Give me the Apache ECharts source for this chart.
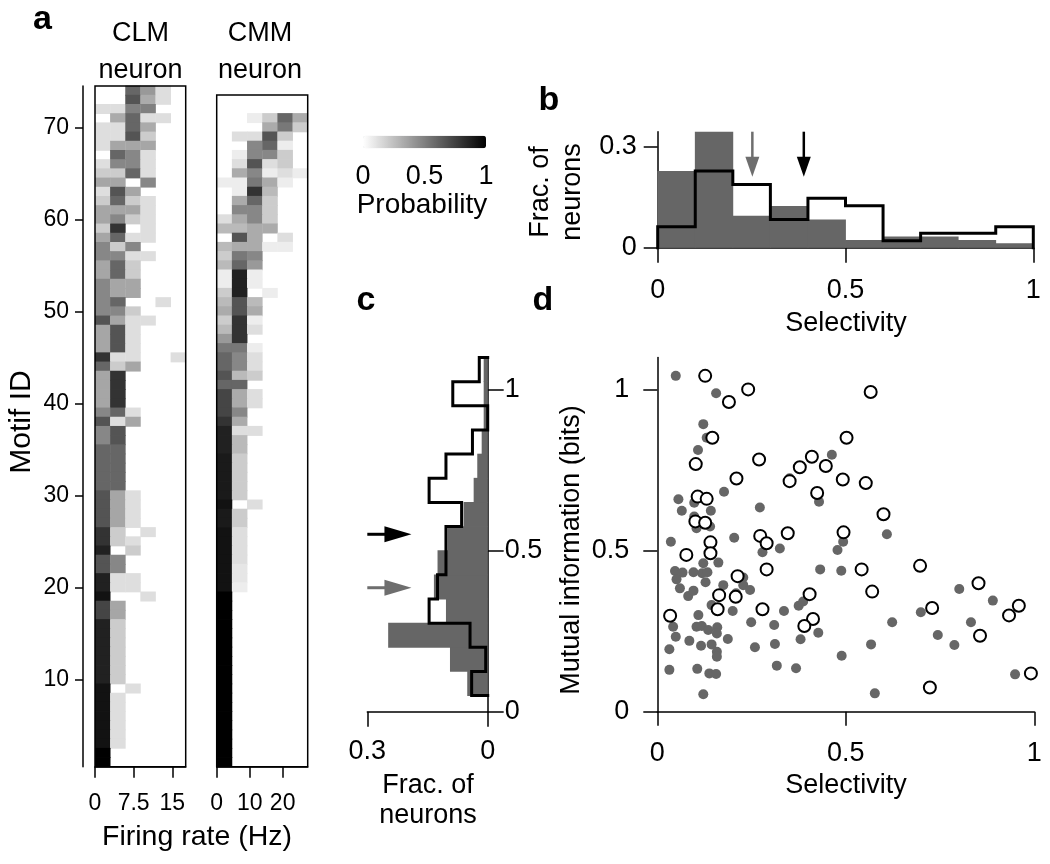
<!DOCTYPE html>
<html><head><meta charset="utf-8">
<script src="https://cdn.jsdelivr.net/npm/echarts@6/dist/echarts.min.js"></script>
<style>html,body{margin:0;padding:0;background:#fff}#c{width:1050px;height:864px}</style>
</head><body><div id="c"></div>
<script>
// ---------------- DATA ----------------
// Panel a: firing-rate bin edges (Hz)
const clmBinEdges = [0, 2.93, 5.87, 8.8, 11.73, 14.67, 17.6];
const cmmBinEdges = [0, 4.6, 9.2, 13.8, 18.4, 23, 27.6];
const clmTicks = [0, 7.5, 15];
const cmmTicks = [0, 10, 20];
const motifTicks = [10, 20, 30, 40, 50, 60, 70];
// CLM neuron: probability per firing-rate bin, rows listed from motif 74 (top) down to motif 1
const clmRows = [
 [0,0,0.6,0.4,0.13,0],[0,0,0.67,0.33,0.13,0],[0.13,0.13,0.5,0.5,0,0],[0,0.33,0.6,0.13,0.13,0],
 [0.13,0.13,0.6,0.33,0,0],[0.13,0.13,0.67,0.2,0,0],[0.13,0.35,0.35,0.35,0,0],[0,0.6,0.47,0.13,0,0],
 [0.13,0.47,0.47,0.13,0,0],[0.2,0.2,0.6,0.13,0,0],[0.35,0.35,0,0.47,0,0],[0.13,0.67,0.35,0,0,0],
 [0.2,0.6,0.2,0.13,0,0],[0.35,0.35,0.35,0.13,0,0],[0.35,0.47,0.2,0.13,0,0],[0.2,0.8,0,0.13,0,0],
 [0.35,0.6,0.13,0.13,0,0],[0.47,0.2,0.47,0,0,0],[0.47,0.47,0.13,0.13,0,0],[0.35,0.6,0.2,0,0,0],
 [0.35,0.6,0.2,0,0,0],[0.47,0.35,0.35,0,0,0],[0.47,0.35,0.35,0,0,0],[0.47,0.6,0,0,0.13,0],
 [0.47,0.47,0.2,0,0,0],[0.67,0.35,0.13,0.13,0,0],[0.35,0.67,0.13,0,0,0],[0.35,0.67,0.13,0,0,0],
 [0.35,0.67,0.13,0,0,0],[0.8,0.13,0.13,0,0,0.13],[0.6,0.2,0.35,0,0,0],[0.35,0.8,0,0,0,0],
 [0.35,0.8,0,0,0,0],[0.35,0.8,0,0,0,0],[0.35,0.8,0,0,0,0],[0.47,0.6,0.13,0,0,0],
 [0.67,0.13,0.35,0,0,0],[0.47,0.67,0,0,0,0],[0.47,0.67,0,0,0,0],[0.6,0.6,0,0,0,0],
 [0.6,0.6,0,0,0,0],[0.6,0.6,0,0,0,0],[0.6,0.6,0,0,0,0],[0.6,0.6,0,0,0,0],
 [0.67,0.35,0.13,0,0,0],[0.67,0.35,0.13,0,0,0],[0.67,0.35,0.13,0,0,0],[0.67,0.35,0.13,0,0,0],
 [0.8,0.2,0,0.13,0,0],[0.8,0.2,0.13,0,0,0],[0.87,0,0.2,0,0,0],[0.67,0.47,0,0,0,0],
 [0.67,0.47,0,0,0,0],[0.87,0.13,0.13,0,0,0],[0.87,0.13,0.13,0,0,0],[0.93,0,0,0.13,0,0],
 [0.73,0.35,0,0,0,0],[0.73,0.35,0,0,0,0],[0.87,0.2,0,0,0,0],[0.87,0.2,0,0,0,0],
 [0.87,0.2,0,0,0,0],[0.87,0.2,0,0,0,0],[0.87,0.2,0,0,0,0],[0.87,0.2,0,0,0,0],
 [0.87,0.2,0,0,0,0],[0.93,0,0.13,0,0,0],[0.93,0.13,0,0,0,0],[0.93,0.13,0,0,0,0],
 [0.93,0.13,0,0,0,0],[0.93,0.13,0,0,0,0],[0.93,0.13,0,0,0,0],[0.93,0.13,0,0,0,0],
 [1,0,0,0,0,0],[1,0,0,0,0,0]
];
// CMM neuron: rows from motif 73 (top) down to motif 1
const cmmRows = [
 [0,0,0.07,0.2,0.6,0.33],[0,0,0,0.33,0.53,0.2],[0,0.13,0.13,0.67,0.2,0],[0,0,0.47,0.6,0.07,0],
 [0,0.07,0.47,0.47,0.2,0],[0,0.13,0.67,0.13,0.2,0],[0,0.33,0.47,0.07,0.13,0.07],[0.07,0.07,0.53,0.33,0.07,0],
 [0,0.07,0.8,0.27,0,0],[0,0.33,0.6,0.2,0,0],[0,0.47,0.47,0.2,0,0],[0.13,0.33,0.47,0.2,0,0],
 [0.27,0.27,0.33,0.33,0,0],[0,0.67,0.33,0,0.13,0],[0.27,0.33,0.33,0.07,0.07,0],[0.2,0.53,0.47,0,0,0],
 [0.27,0.6,0.4,0,0,0],[0.07,0.87,0.07,0,0,0],[0.07,0.87,0.07,0,0,0],[0.2,0.87,0,0.07,0,0],
 [0.27,0.67,0.27,0,0,0],[0.33,0.67,0.33,0,0,0],[0.2,0.8,0.07,0,0,0],[0.27,0.8,0.13,0,0,0],
 [0.4,0.8,0,0,0,0],[0.53,0.53,0.07,0,0,0],[0.6,0.47,0.13,0,0,0],[0.6,0.47,0.13,0,0,0],
 [0.67,0.27,0.2,0,0,0],[0.6,0.6,0,0,0,0],[0.73,0.33,0.13,0,0,0],[0.73,0.33,0.13,0,0,0],
 [0.73,0.47,0,0,0,0],[0.8,0.33,0,0,0,0],[0.87,0.13,0.13,0,0,0],[0.87,0.27,0,0,0,0],
 [0.87,0.27,0,0,0,0],[0.9,0.2,0,0,0,0],[0.9,0.2,0,0,0,0],[0.9,0.2,0,0,0,0],
 [0.9,0.2,0,0,0,0],[0.9,0.2,0,0,0,0],[0.93,0,0.13,0,0,0],[0.9,0.2,0,0,0,0],
 [0.9,0.2,0,0,0,0],[0.93,0.13,0,0,0,0],[0.93,0.13,0,0,0,0],[0.93,0.13,0,0,0,0],
 [0.93,0.13,0,0,0,0],[0.93,0.1,0,0,0,0],[0.93,0.1,0,0,0,0],[0.93,0.07,0,0,0,0],
 [1,0,0,0,0,0],[1,0,0,0,0,0],[1,0,0,0,0,0],[1,0,0,0,0,0],[1,0,0,0,0,0],[1,0,0,0,0,0],
 [1,0,0,0,0,0],[1,0,0,0,0,0],[1,0,0,0,0,0],[1,0,0,0,0,0],[1,0,0,0,0,0],[1,0,0,0,0,0],
 [1,0,0,0,0,0],[1,0,0,0,0,0],[1,0,0,0,0,0],[1,0,0,0,0,0],[1,0,0,0,0,0],[1,0,0,0,0,0],
 [1,0,0,0,0,0]
];
const probTicks = [0, 0.5, 1];

// Panel b: selectivity histograms
const selBinEdges = [0, 0.1, 0.2, 0.3, 0.4, 0.5, 0.6, 0.7, 0.8, 0.9, 1.0];
const selFilled  = [0.228, 0.345, 0.095, 0.124, 0.084, 0.023, 0.033, 0.033, 0.023, 0.013];
const selOutline = [0.062, 0.228, 0.188, 0.084, 0.147, 0.125, 0.021, 0.043, 0.043, 0.062];
const selFracTicks = [0, 0.3];
const selTicks = [0, 0.5, 1];
const selArrowGray  = [0.252, 0.345, 0.252, 0.211];
const selArrowBlack = [0.389, 0.345, 0.389, 0.211];

// Panel c: mutual information histograms (horizontal)
const miBinEdges = [0.05, 0.125, 0.2, 0.275, 0.35, 0.425, 0.5, 0.575, 0.65, 0.725, 0.8, 0.875, 0.95, 1.025, 1.1];
const miFilled  = [0.051, 0.094, 0.248, 0.104, 0.134, 0.125, 0.1, 0.06, 0.035, 0.026, 0.015, 0.01, 0.01, 0.01];
const miOutline = [0.04, 0.005, 0.044, 0.146, 0.125, 0.104, 0.104, 0.065, 0.146, 0.104, 0.038, 0, 0.087, 0.021];
const miFracTicks = [0, 0.3];
const miTicks = [0, 0.5, 1];
const miArrowBlack = [0.3, 0.551, 0.19, 0.551];
const miArrowGray  = [0.3, 0.385, 0.19, 0.385];

// Panel d: selectivity vs mutual information
const scatterFilled = [
 [0.049,1.043],[0.156,0.989],[0.122,0.893],[0.131,0.851],[0.108,0.813],[0.463,0.798],[0.351,0.725],[0.177,0.683],
 [0.056,0.660],[0.098,0.649],[0.065,0.624],[0.142,0.624],[0.272,0.634],[0.429,0.652],[0.098,0.606],[0.104,0.570],
 [0.140,0.575],[0.036,0.528],[0.204,0.540],[0.609,0.551],[0.325,0.507],[0.478,0.502],[0.493,0.528],[0.279,0.495],
 [0.432,0.442],[0.488,0.438],[0.047,0.437],[0.067,0.432],[0.051,0.411],[0.096,0.433],[0.122,0.461],[0.119,0.430],
 [0.133,0.433],[0.128,0.402],[0.162,0.463],[0.060,0.383],[0.082,0.359],[0.096,0.376],[0.175,0.393],[0.228,0.417],
 [0.228,0.393],[0.246,0.378],[0.209,0.368],[0.144,0.331],[0.200,0.313],[0.336,0.313],[0.375,0.329],[0.387,0.342],
 [0.801,0.381],[0.890,0.345],[0.699,0.309],[0.109,0.300],[0.042,0.264],[0.049,0.233],[0.104,0.264],[0.118,0.266],
 [0.135,0.254],[0.159,0.262],[0.158,0.243],[0.249,0.278],[0.310,0.269],[0.623,0.278],[0.832,0.278],[0.427,0.245],
 [0.744,0.238],[0.187,0.226],[0.380,0.225],[0.085,0.220],[0.032,0.194],[0.116,0.205],[0.144,0.209],[0.158,0.186],
 [0.158,0.171],[0.259,0.200],[0.312,0.210],[0.567,0.209],[0.788,0.207],[0.489,0.174],[0.317,0.143],[0.368,0.135],
 [0.032,0.130],[0.106,0.133],[0.138,0.119],[0.156,0.117],[0.949,0.116],[0.122,0.054],[0.577,0.057]
];
const scatterOpen = [
 [0.127,1.043],[0.241,1.001],[0.190,0.962],[0.566,0.993],[0.146,0.851],[0.502,0.851],[0.102,0.769],[0.270,0.783],
 [0.410,0.792],[0.378,0.759],[0.447,0.763],[0.210,0.724],[0.351,0.716],[0.492,0.721],[0.553,0.710],[0.107,0.668],
 [0.131,0.661],[0.424,0.679],[0.101,0.591],[0.127,0.587],[0.600,0.613],[0.273,0.546],[0.290,0.523],[0.346,0.554],
 [0.494,0.557],[0.141,0.526],[0.141,0.492],[0.077,0.487],[0.290,0.442],[0.213,0.421],[0.542,0.442],[0.697,0.453],
 [0.852,0.399],[0.570,0.373],[0.404,0.365],[0.164,0.362],[0.208,0.357],[0.160,0.318],[0.279,0.318],[0.729,0.322],
 [0.959,0.329],[0.933,0.299],[0.034,0.298],[0.413,0.288],[0.390,0.266],[0.856,0.236],[0.991,0.119],[0.723,0.075]
];

// ---------------- BUILD ----------------
const FONT = '"Liberation Sans", Arial, Helvetica, sans-serif';
const GRAY = '#666666';

function heatData(rows, edges) {
  const out = []; const n = rows.length;
  rows.forEach((r, i) => { const motif = n - i; r.forEach((v, c) => { if (v > 0) out.push([edges[c], edges[c + 1], motif, v]); }); });
  return out;
}
function heatItem(params, api) {
  const m = api.value(2);
  const a = api.coord([api.value(0), m + 0.5]);
  const b = api.coord([api.value(1), m - 0.5]);
  const col = api.visual('color');
  return { type: 'rect', shape: { x: a[0], y: a[1] - 0.4, width: b[0] - a[0] + 0.4, height: b[1] - a[1] + 0.8 },
           style: { fill: col, stroke: null } };
}
function vBarData(edges, vals) { return vals.map((v, i) => [edges[i], edges[i + 1], v]); }
function vBarItem(params, api) {
  const a = api.coord([api.value(0), api.value(2)]);
  const b = api.coord([api.value(1), 0]);
  return { type: 'rect', shape: { x: a[0] - 0.4, y: a[1], width: b[0] - a[0] + 0.8, height: b[1] - a[1] }, style: { fill: GRAY } };
}
function hBarItem(params, api) {
  const a = api.coord([api.value(2), api.value(1)]);
  const b = api.coord([0, api.value(0)]);
  const x = Math.min(a[0], b[0]), w = Math.abs(b[0] - a[0]);
  return { type: 'rect', shape: { x: x, y: a[1] - 0.4, width: w, height: b[1] - a[1] + 0.8 }, style: { fill: GRAY } };
}
function stepV(edges, vals) {
  const p = [[edges[0], 0]];
  vals.forEach((v, i) => { p.push([edges[i], v]); p.push([edges[i + 1], v]); });
  p.push([edges[edges.length - 1], 0]); return p;
}
function stepH(edges, vals) { return stepV(edges, vals).map(q => [q[1], q[0]]); }
function arrowItemFactory(headLen, headHalf, shaftW) {
  return function (params, api) {
    const t = api.coord([api.value(0), api.value(1)]);
    const p = api.coord([api.value(2), api.value(3)]);
    const dx = p[0] - t[0], dy = p[1] - t[1], L = Math.hypot(dx, dy);
    const ux = dx / L, uy = dy / L, nx = -uy, ny = ux;
    const bx = p[0] - ux * headLen, by = p[1] - uy * headLen;
    const col = api.visual('color');
    return { type: 'group', children: [
      { type: 'line', shape: { x1: t[0], y1: t[1], x2: bx + ux * 2, y2: by + uy * 2 }, style: { stroke: col, lineWidth: shaftW } },
      { type: 'polygon', shape: { points: [[p[0], p[1]], [bx + nx * headHalf, by + ny * headHalf], [bx - nx * headHalf, by - ny * headHalf]] }, style: { fill: col } }
    ]};
  };
}

const tickLbl = (size, margin, extra) => Object.assign({ color: '#000', fontSize: size, fontFamily: FONT, margin: margin }, extra || {});
const axLine = { show: true, onZero: false, lineStyle: { color: '#000', width: 1.5 } };
const tick = (len, vals) => ({ show: true, length: len, customValues: vals, lineStyle: { color: '#000', width: 1.5 } });
const noSplit = { show: false };

const grids = [
  { left: 95, top: 86, width: 90.7, height: 680.7, show: true, borderColor: '#000', borderWidth: 1.5, z: 5, outerBoundsMode: 'none' },
  { left: 216.7, top: 95.1, width: 91, height: 671.6, show: true, borderColor: '#000', borderWidth: 1.5, z: 5, outerBoundsMode: 'none' },
  { left: 363, top: 135.7, width: 123, height: 12.6, outerBoundsMode: 'none' },
  { left: 657.7, top: 131.7, width: 375.6, height: 116, outerBoundsMode: 'none' },
  { left: 367.3, top: 357.5, width: 120.4, height: 354.2, outerBoundsMode: 'none' },
  { left: 657.3, top: 357.5, width: 377, height: 354.2, outerBoundsMode: 'none' }
];

const xAxes = [
  { gridIndex: 0, type: 'value', min: 0, max: clmBinEdges[clmBinEdges.length - 1], axisLine: axLine, axisTick: tick(11, clmTicks),
    axisLabel: tickLbl(23, 25, { customValues: clmTicks }), splitLine: noSplit },
  { gridIndex: 1, type: 'value', min: 0, max: cmmBinEdges[cmmBinEdges.length - 1], axisLine: axLine, axisTick: tick(11, cmmTicks),
    axisLabel: tickLbl(23, 25, { customValues: cmmTicks }), splitLine: noSplit },
  { gridIndex: 2, type: 'value', min: 0, max: 1, axisLine: { show: false }, axisTick: { show: false },
    axisLabel: tickLbl(27, 15, { customValues: probTicks }), splitLine: noSplit },
  { gridIndex: 3, type: 'value', min: 0, max: 1, axisLine: axLine, axisTick: tick(15, selTicks),
    axisLabel: tickLbl(27, 29, { customValues: selTicks }), splitLine: noSplit },
  { gridIndex: 4, type: 'value', min: 0, max: 0.3, inverse: true, axisLine: axLine, axisTick: tick(15, miFracTicks),
    axisLabel: tickLbl(27, 26, { customValues: miFracTicks }), splitLine: noSplit },
  { gridIndex: 5, type: 'value', min: 0, max: 1, axisLine: axLine, axisTick: tick(14, selTicks),
    axisLabel: tickLbl(27, 28, { customValues: selTicks }), splitLine: noSplit }
];
const yAxes = [
  { gridIndex: 0, type: 'value', min: 0.5, max: 74.5, offset: 12, axisLine: axLine, axisTick: tick(8, motifTicks),
    axisLabel: tickLbl(23, 14, { customValues: motifTicks }), splitLine: noSplit },
  { gridIndex: 1, type: 'value', min: 0.5, max: 73.5, show: false, splitLine: noSplit },
  { gridIndex: 2, type: 'value', min: 0, max: 1, show: false, splitLine: noSplit },
  { gridIndex: 3, type: 'value', min: 0, max: 0.345, axisLine: axLine, axisTick: tick(14, selFracTicks),
    axisLabel: tickLbl(27, 21, { customValues: selFracTicks }), splitLine: noSplit },
  { gridIndex: 4, type: 'value', position: 'right', min: 0, max: 1.1, axisLine: axLine, axisTick: tick(16, miTicks),
    axisLabel: tickLbl(27, 17, { customValues: miTicks }), splitLine: noSplit },
  { gridIndex: 5, type: 'value', min: 0, max: 1.1, axisLine: axLine, axisTick: tick(14, miTicks),
    axisLabel: tickLbl(27, 28, { customValues: miTicks }), splitLine: noSplit }
];

const txt = (s, x, y, opt) => Object.assign({ type: 'text', x: x, y: y, silent: true,
  style: Object.assign({ text: s, font: '27px ' + FONT, fill: '#000', align: 'center', verticalAlign: 'middle',
                         textAlign: 'center', textVerticalAlign: 'middle' }, (opt && opt.style) || {}) },
  opt && opt.rotation ? { rotation: opt.rotation } : {});
const bold = { style: { font: 'bold 34px ' + FONT } };
const rot = { rotation: Math.PI / 2 };

const option = {
  animation: false,
  backgroundColor: '#fff',
  textStyle: { fontFamily: FONT, color: '#000' },
  grid: grids, xAxis: xAxes, yAxis: yAxes,
  visualMap: {
    type: 'continuous', seriesIndex: [0, 1], dimension: 3, min: 0, max: 1,
    inRange: { color: ['#ffffff', '#000000'] }, orient: 'horizontal',
    left: 363, top: 135.7, itemWidth: 12.6, itemHeight: 123, padding: 0,
    calculable: false, hoverLink: false, showLabel: false
  },
  series: [
    { type: 'custom', xAxisIndex: 0, yAxisIndex: 0, renderItem: heatItem, data: heatData(clmRows, clmBinEdges), encode: { x: [0, 1], y: 2 }, silent: true },
    { type: 'custom', xAxisIndex: 1, yAxisIndex: 1, renderItem: heatItem, data: heatData(cmmRows, cmmBinEdges), encode: { x: [0, 1], y: 2 }, silent: true },
    { type: 'custom', xAxisIndex: 3, yAxisIndex: 3, renderItem: vBarItem, data: vBarData(selBinEdges, selFilled), encode: { x: [0, 1], y: 2 }, silent: true, z: 2 },
    { type: 'line', xAxisIndex: 3, yAxisIndex: 3, data: stepV(selBinEdges, selOutline), showSymbol: false, symbol: 'none', clip: false, silent: true, z: 4,
      lineStyle: { color: '#000', width: 3, join: 'miter', cap: 'square' } },
    { type: 'custom', xAxisIndex: 3, yAxisIndex: 3, renderItem: arrowItemFactory(20, 7, 2.5), silent: true, z: 5, clip: false,
      data: [{ value: selArrowGray, itemStyle: { color: '#6e6e6e' } }, { value: selArrowBlack, itemStyle: { color: '#000' } }] },
    { type: 'custom', xAxisIndex: 4, yAxisIndex: 4, renderItem: hBarItem, data: vBarData(miBinEdges, miFilled), encode: { y: [0, 1], x: 2 }, silent: true, z: 2 },
    { type: 'line', xAxisIndex: 4, yAxisIndex: 4, data: stepH(miBinEdges, miOutline), showSymbol: false, symbol: 'none', clip: false, silent: true, z: 4,
      lineStyle: { color: '#000', width: 3, join: 'miter', cap: 'square' } },
    { type: 'custom', xAxisIndex: 4, yAxisIndex: 4, renderItem: arrowItemFactory(27, 8, 3), silent: true, z: 5, clip: false,
      data: [{ value: miArrowBlack, itemStyle: { color: '#000' } }, { value: miArrowGray, itemStyle: { color: '#6e6e6e' } }] },
    { type: 'scatter', xAxisIndex: 5, yAxisIndex: 5, data: scatterFilled, symbol: 'circle', symbolSize: 10, clip: false, silent: true,
      itemStyle: { color: GRAY, opacity: 1 }, z: 2 },
    { type: 'scatter', xAxisIndex: 5, yAxisIndex: 5, data: scatterOpen, symbol: 'circle', symbolSize: 12, clip: false, silent: true,
      itemStyle: { color: '#fff', borderColor: '#000', borderWidth: 2, opacity: 1 }, z: 3 }
  ],
  graphic: [
    txt('a', 42.5, 19.5, bold), txt('b', 549, 100.5, bold), txt('c', 366, 300.5, bold), txt('d', 543, 300.5, bold),
    txt('CLM', 140.5, 33.5), txt('neuron', 140.5, 70.5), txt('CMM', 260, 33.5), txt('neuron', 260, 70.5),
    txt('Motif ID', 21.5, 422, { rotation: Math.PI / 2, style: { font: '30px ' + FONT } }),
    txt('Firing rate (Hz)', 197, 837.5, { style: { font: '28.5px ' + FONT } }),
    txt('Probability', 422, 205, { style: { font: '28px ' + FONT } }),
    txt('Frac. of', 541, 192, rot), txt('neurons', 573, 192, rot),
    txt('Selectivity', 846, 323.5),
    txt('Mutual information (bits)', 571.5, 550, rot),
    txt('Selectivity', 846, 785.5),
    txt('Frac. of', 428, 785.5), txt('neurons', 428, 815.5)
  ]
};
const chart = echarts.init(document.getElementById('c'), null, { renderer: 'canvas' });
chart.setOption(option);
</script></body></html>
